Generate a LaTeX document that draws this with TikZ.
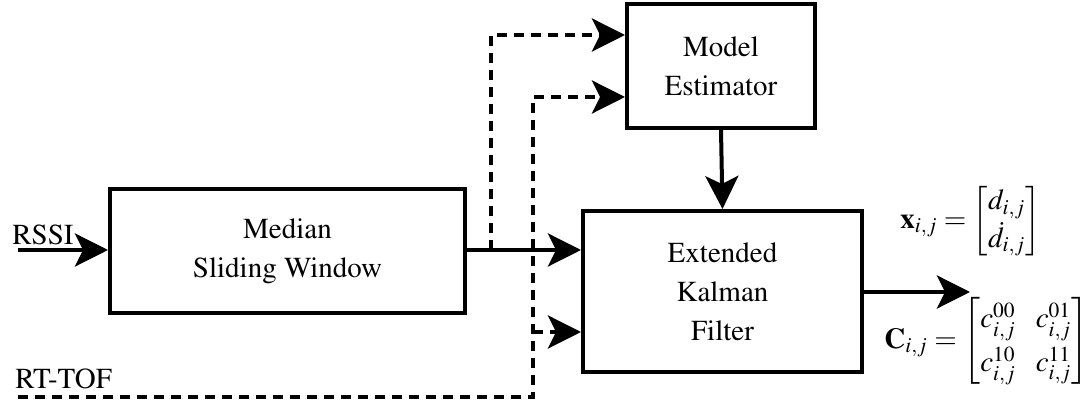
\documentclass[tikz,border=0pt]{standalone}
\usepackage[T1]{fontenc}
\usepackage{amsmath}
\usepackage{mathptmx}
\usetikzlibrary{arrows.meta}
\begin{document}
\begin{tikzpicture}[x=0.5pt,y=-0.5pt,
  blockbox/.style={draw, line width=2pt, align=center, inner sep=0pt,
    font=\fontsize{14.5pt}{19.5pt}\selectfont},
  arr/.style={line width=2pt, -{Stealth[length=16.5pt,width=16.5pt,inset=4pt]}},
  darr/.style={arr, dash pattern=on 5pt off 3.5pt},
  lbl/.style={inner sep=0pt, font=\fontsize{14.5pt}{19.5pt}\selectfont},
  mlbl/.style={inner sep=0pt, font=\fontsize{14.5pt}{17pt}\selectfont}]
\useasboundingbox (0,0) rectangle (1087,410);
% blocks
\node[blockbox, minimum width=177.5pt, minimum height=62pt] (med) at (287.5,251) {Median\\Sliding Window};
\node[blockbox, minimum width=94pt, minimum height=62pt] (model) at (721,66) {Model\\Estimator};
\node[blockbox, minimum width=139.5pt, minimum height=80.5pt] (ekf) at (722.5,291.5) {Extended\\Kalman\\Filter};
% labels
\node[lbl, anchor=base west] (rssi) at (12,245) {RSSI};
\node[lbl, anchor=base west] (rttof) at (15,389) {RT-TOF};
\node[mlbl, anchor=west] (xlab) at (900,221) {\renewcommand{\arraystretch}{1.1}$\mathbf{x}_{i,j} = \begin{bmatrix} d_{i,j}\\ \dot{d}_{i,j}\end{bmatrix}$};
\node[mlbl, anchor=west] (clab) at (884,341) {\renewcommand{\arraystretch}{1.3}$\mathbf{C}_{i,j} = \begin{bmatrix} c^{00}_{i,j} & c^{01}_{i,j}\\ c^{10}_{i,j} & c^{11}_{i,j}\end{bmatrix}$};
% coordinates
\coordinate (rssiS) at (18,250);
\coordinate (b1) at (491,250);
\coordinate (b1top) at (491,35);
\coordinate (rtS) at (18,397);
\coordinate (rtC) at (533,397);
\coordinate (rtT) at (533,97);
\coordinate (rtB) at (533,332);
\coordinate (outE) at (970,292);
% connectors
\draw[arr] (rssiS) -- (rssiS -| med.west);
\draw[arr] (med.east |- b1) -- (b1 -| ekf.west);
\draw[darr] (b1) -- (b1top) -- (b1top -| model.west);
\draw[darr] (rtS) -- (rtC) -- (rtT) -- (rtT -| model.west);
\draw[darr] (rtB) -- (rtB -| ekf.west);
\draw[arr] (model.south) -- (ekf.north);
\draw[arr] (ekf.east |- outE) -- (outE);
\end{tikzpicture}
\end{document}
